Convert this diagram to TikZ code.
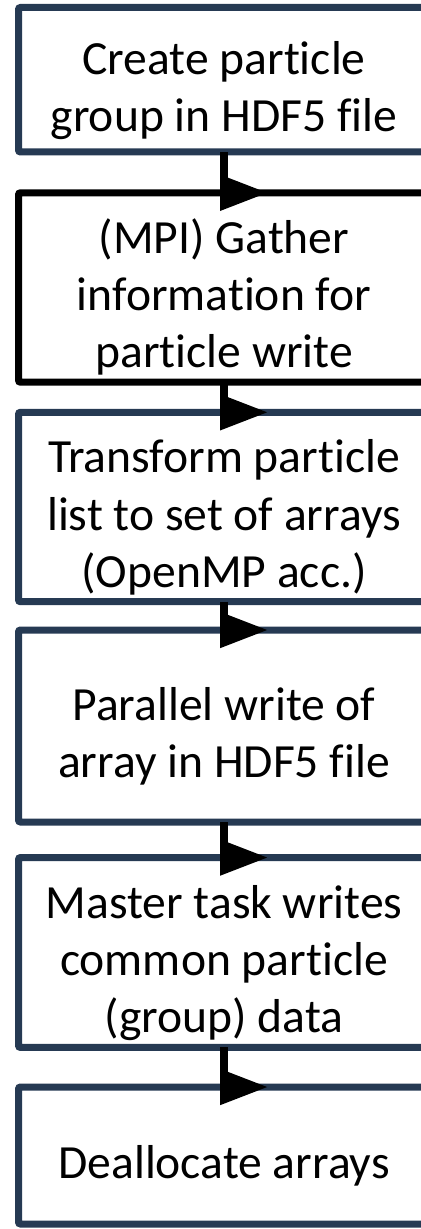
\documentclass[tikz,border=0pt]{standalone}
\usepackage{fontspec}
\setmainfont{Carlito}[Ligatures=NoCommon]
\usetikzlibrary{arrows.meta}
\definecolor{azuloscuro}{HTML}{263A53}
% puntal para bajar un poco el texto de cada caja
\newcommand\puntal{\rule{0pt}{27pt}}
\begin{document}
\begin{tikzpicture}[x=0.5pt, y=-0.5pt,
  paso/.style={draw=azuloscuro, line width=3.5pt, fill=white, rounded corners=1pt,
    outer sep=0pt, minimum width=205.5pt, align=center,
    font=\fontsize{23.8}{28.6}\selectfont},
  flecha/.style={line width=4pt, -{Triangle[length=24pt,width=17pt]}}]
  % el marco, cortado por la derecha
  \useasboundingbox (0,0) rectangle (421,1229);
  \clip (0,0) rectangle (421,1229);
  % los pasos
  \node[paso, minimum height=72.25pt] (crear) at (224,79.75)
    {\puntal Create particle\\group in HDF5 file};
  \node[paso, draw=black, minimum height=94.5pt] (reunir) at (224,287.5)
    {\puntal (MPI) Gather\\information for\\particle write};
  \node[paso, minimum height=90pt] (transformar) at (224,507)
    {\puntal Transform particle\\list to set of arrays\\(OpenMP acc.)};
  \node[paso, minimum height=96pt] (escribir) at (224,726)
    {\puntal Parallel write of\\array in HDF5 file};
  \node[paso, minimum height=89.5pt] (maestro) at (224,952.5)
    {\puntal Master task writes\\common particle\\(group) data};
  \node[paso, minimum height=68.5pt] (liberar) at (224,1155.5)
    {\puntal Deallocate arrays};
  % las flechas, que bajan y doblan sobre el borde de arriba
  \foreach \a/\b in {crear/reunir, reunir/transformar, transformar/escribir,
                     escribir/maestro, maestro/liberar} {
    \draw[flecha] (\a.south) |- ([xshift=22pt]\b.north);
  }
\end{tikzpicture}
\end{document}
